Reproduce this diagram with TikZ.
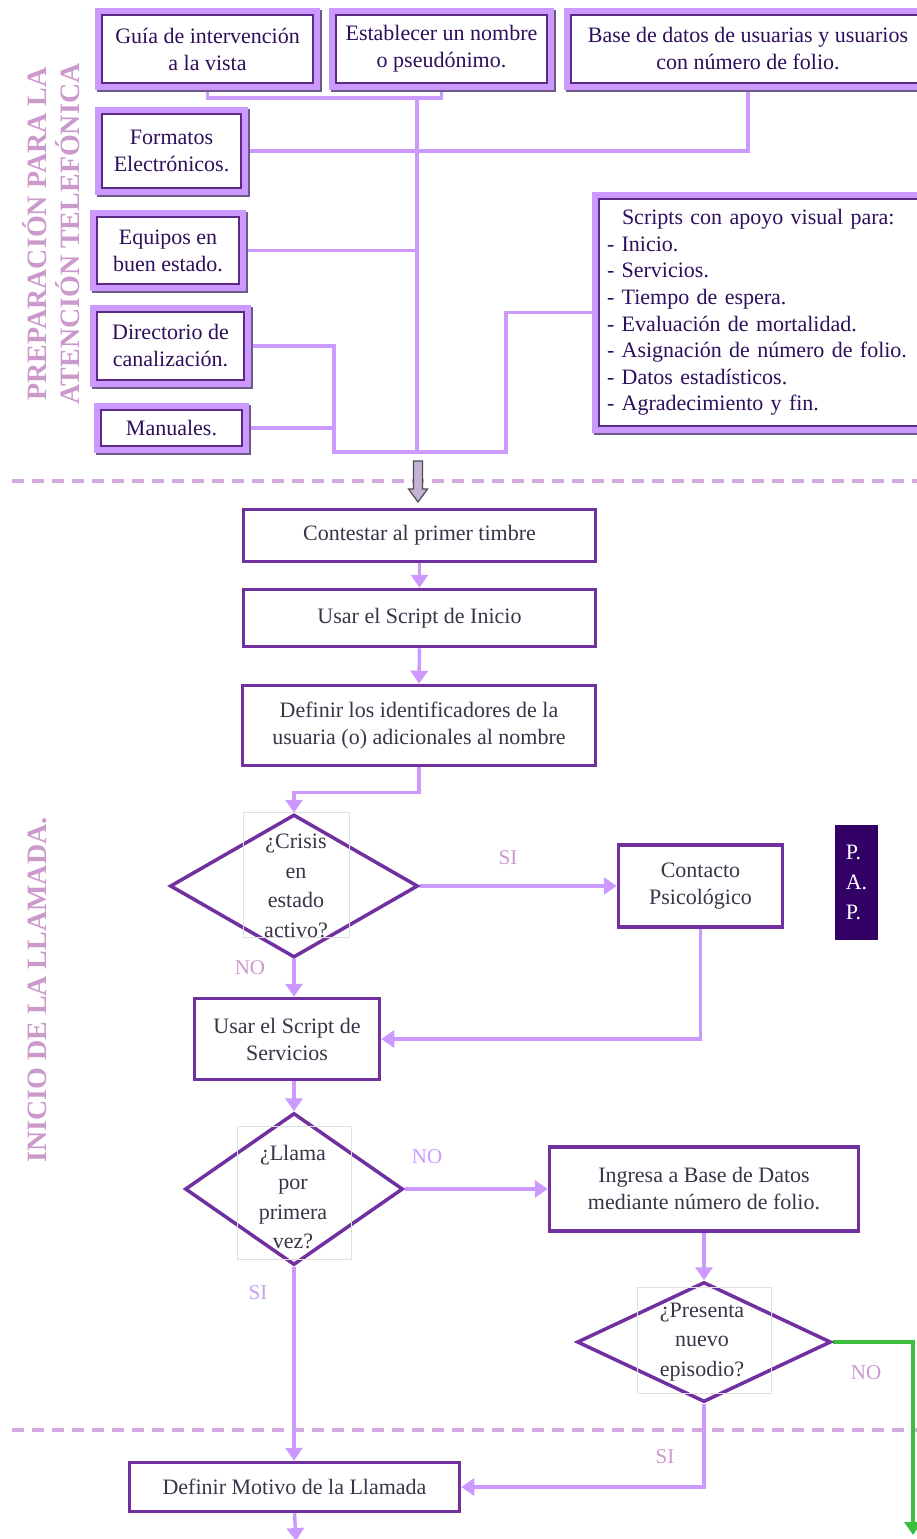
\documentclass[tikz,border=0pt]{standalone}
\usepackage{fontspec}
\setmainfont{Liberation Serif}
\usetikzlibrary{arrows.meta,shapes.geometric,calc}
\definecolor{lp}{HTML}{CC99FF}
\definecolor{dp}{HTML}{7030A0}
\definecolor{shadowc}{HTML}{6E5A8A}
\definecolor{innerc}{HTML}{5A2A85}
\definecolor{mauve}{HTML}{CC99CC}
\definecolor{sepc}{HTML}{D3A9E0}
\definecolor{txt}{HTML}{3C3347}
\definecolor{ttxt}{HTML}{2D0F5C}
\definecolor{papc}{HTML}{330066}
\definecolor{grn}{HTML}{3CBF3C}
\definecolor{blk}{HTML}{C5B3D5}
\pgfdeclarelayer{bg}
\pgfsetlayers{bg,main}
\tikzset{
  every node/.style={font=\fontsize{22}{27}\selectfont},
  rbox/.style={fill=white, inner sep=0pt, text=ttxt, align=center},
  flow/.style={draw=dp, line width=3.5pt, fill=white, text=txt, align=center, inner sep=0pt},
  dia/.style={diamond, draw=dp, line width=3.5pt, fill=white, inner sep=0pt},
  dtext/.style={text=txt, align=center, inner sep=0pt, font=\fontsize{22}{29.5}\selectfont},
  tbox/.style={draw=black!12, line width=0.6pt, inner sep=0pt},
  conn/.style={lp, line width=3.5pt},
  arr/.style={conn, -{Triangle[length=13pt,width=17pt]}},
  grnarr/.style={grn, line width=3.5pt, -{Triangle[length=13pt,width=17pt]}},
  lbl/.style={text=mauve, inner sep=0pt, font=\fontsize{21}{25}\selectfont},
  title/.style={text=mauve, rotate=90, align=center, inner sep=0pt, font=\fontsize{28}{33}\bfseries\selectfont},
  sepline/.style={sepc, line width=3.5pt, dash pattern=on 12pt off 8pt},
}
\begin{document}
\begin{tikzpicture}[x=1pt,y=-1pt]
\path[use as bounding box, clip] (0,0) rectangle (917,1539);

% section titles
\node[title] (tprep) at (51,234) {PREPARACIÓN PARA LA\\ATENCIÓN TELEFÓNICA};
\node[title] (tinicio) at (37,990) {INICIO DE LA LLAMADA.};

% preparation resources
\node[rbox, minimum width=211, minimum height=68] (b1) at (207.5,49) {Guía de intervención\\a la vista};
\node[rbox, minimum width=211, minimum height=68] (b2) at (441.5,49) {Establecer un nombre\\o pseudónimo.};
\node[rbox, minimum width=354, minimum height=68] (b3) at (748,49) {Base de datos de usuarias y usuarios\\con número de folio.};
\node[rbox, minimum width=139, minimum height=74] (b4) at (171.5,151) {Formatos\\Electrónicos.};
\node[rbox, minimum width=142, minimum height=67] (b5) at (168,250.5) {Equipos en\\buen estado.};
\node[rbox, minimum width=147, minimum height=68] (b6) at (170.5,346) {Directorio de\\canalización.};
\node[rbox, minimum width=141, minimum height=36] (b7) at (171.5,428) {Manuales.};
\node[rbox, align=left, text width=310, inner xsep=8pt, minimum height=227,
      font=\fontsize{22}{26.6}\selectfont] (b8) at (762,312.5)
  {\hspace*{15pt}Scripts con apoyo visual para:\\
   - Inicio.\\
   - Servicios.\\
   - Tiempo de espera.\\
   - Evaluación de mortalidad.\\
   - Asignación de número de folio.\\
   - Datos estadísticos.\\
   - Agradecimiento y fin.};

% raised frames of the resource boxes
\foreach \n in {b1,b2,b3,b4,b5,b6,b7,b8}{
  \draw[lp, line width=6pt] ([shift={(-4,-4)}]\n.north west) rectangle ([shift={(4,4)}]\n.south east);
  \draw[shadowc, line width=2.5pt] ([shift={(-5,8)}]\n.south west) -- ([shift={(8,8)}]\n.south east) -- ([shift={(8,-5)}]\n.north east);
  \draw[innerc, line width=2pt] (\n.north west) rectangle (\n.south east);
}

% call flow
\node[flow, minimum width=352, minimum height=52] (c1) at (419.5,535.5) {Contestar al primer timbre};
\node[flow, minimum width=352, minimum height=57] (c2) at (419.5,618) {Usar el Script de Inicio};
\node[flow, minimum width=353, minimum height=80] (c3) at (419,725.5) {Definir los identificadores de la\\usuaria (o) adicionales al nombre};

\node[dia, minimum width=248, minimum height=143] (d1) at (294,886) {};
\node[tbox, minimum width=106, minimum height=125] (d1box) at (296,874.5) {};
\node[dtext] (d1t) at (296,886) {¿Crisis\\en\\estado\\activo?};

\node[flow, minimum width=164, minimum height=82] (pc) at (700.5,886) {Contacto\\Psicológico};
\node[fill=papc, text=white, minimum width=43, minimum height=115, inner sep=0pt, align=left,
      font=\fontsize{22}{30}\selectfont] (pap) at (856.5,882.5) {P.\\A.\\P.};

\node[flow, minimum width=185, minimum height=81] (c4) at (287,1039) {Usar el Script de\\Servicios};

\node[dia, minimum width=218, minimum height=152] (d2) at (294,1189) {};
\node[tbox, minimum width=114, minimum height=133] (d2box) at (294,1192.5) {};
\node[dtext] (d2t) at (293,1197) {¿Llama\\por\\primera\\vez?};

\node[flow, minimum width=309, minimum height=84] (c5) at (704,1189) {Ingresa a Base de Datos\\mediante número de folio.};

\node[dia, minimum width=254, minimum height=120] (d3) at (704,1342) {};
\node[tbox, minimum width=134, minimum height=106] (d3box) at (704,1340) {};
\node[dtext] (d3t) at (702,1342) {¿Presenta\\nuevo\\episodio?};

\node[flow, minimum width=330, minimum height=49] (c6) at (294.5,1487) {Definir Motivo de la Llamada};

% branch labels
\node[lbl] (si1) at (508,858) {SI};
\node[lbl] (no1) at (250,968) {NO};
\node[lbl, text=lp] (no2) at (427,1157) {NO};
\node[lbl, text=lp!90!black!80] (si2) at (258,1293) {SI};
\node[lbl] (no3) at (866,1373) {NO};
\node[lbl] (si3) at (665,1457) {SI};

% junction points
\coordinate (top) at (417,98);
\coordinate (bot) at (417,452);
\coordinate (j6) at (334,452);
\coordinate (j7) at (506,452);
\coordinate (gend) at (913,1535);
\coordinate (fend) at (296,1541);

\begin{pgfonlayer}{bg}
  % section separators
  \draw[sepline] (12,481) -- (917,481);
  \draw[sepline] (12,1430) -- (917,1430);
  % resources feeding the preparation
  \draw[conn] (b1.south) |- (top) -| (b2.south);
  \draw[conn] (top) -- (bot);
  \draw[conn] (b3.south) |- (b4.east);
  \draw[conn] (b5.east) -- (b5.east -| top);
  \draw[conn] (b6.east) -| (j6) -- (j7) |- (b8.west);
  \draw[conn] (b7.east) -- (b7.east -| j6);
  % flow connectors
  \draw[arr] (c1.south) -- (c2.north);
  \draw[arr] (c2.south) -- (c3.north);
  \draw[arr] (c3.south) -- ++(0,25) -| (d1.north);
  \draw[arr] (d1.east) -- (d1.east -| pc.west);
  \draw[arr] (d1.south) -- (d1.south |- c4.north);
  \draw[arr] (pc.south) |- (c4.east);
  \draw[arr] (d2.north |- c4.south) -- (d2.north);
  \draw[arr] (d2.east) -- (d2.east -| c5.west);
  \draw[arr] (c5.south) -- (d3.north);
  \draw[grnarr] (d3.east) -| (gend);
  \draw[arr] (d3.south) |- (c6.east);
  \draw[arr] (d2.south) -- (d2.south |- c6.north);
  \draw[arr] (c6.south) -- (fend);
\end{pgfonlayer}

% hand-over from preparation to the call
\draw[fill=blk, draw=black!70, line width=1.2pt]
  (413.5,461) -- (422.5,461) -- (422.5,489) -- (427.5,489) -- (418,502)
  -- (408.5,489) -- (413.5,489) -- cycle;
\end{tikzpicture}
\end{document}
